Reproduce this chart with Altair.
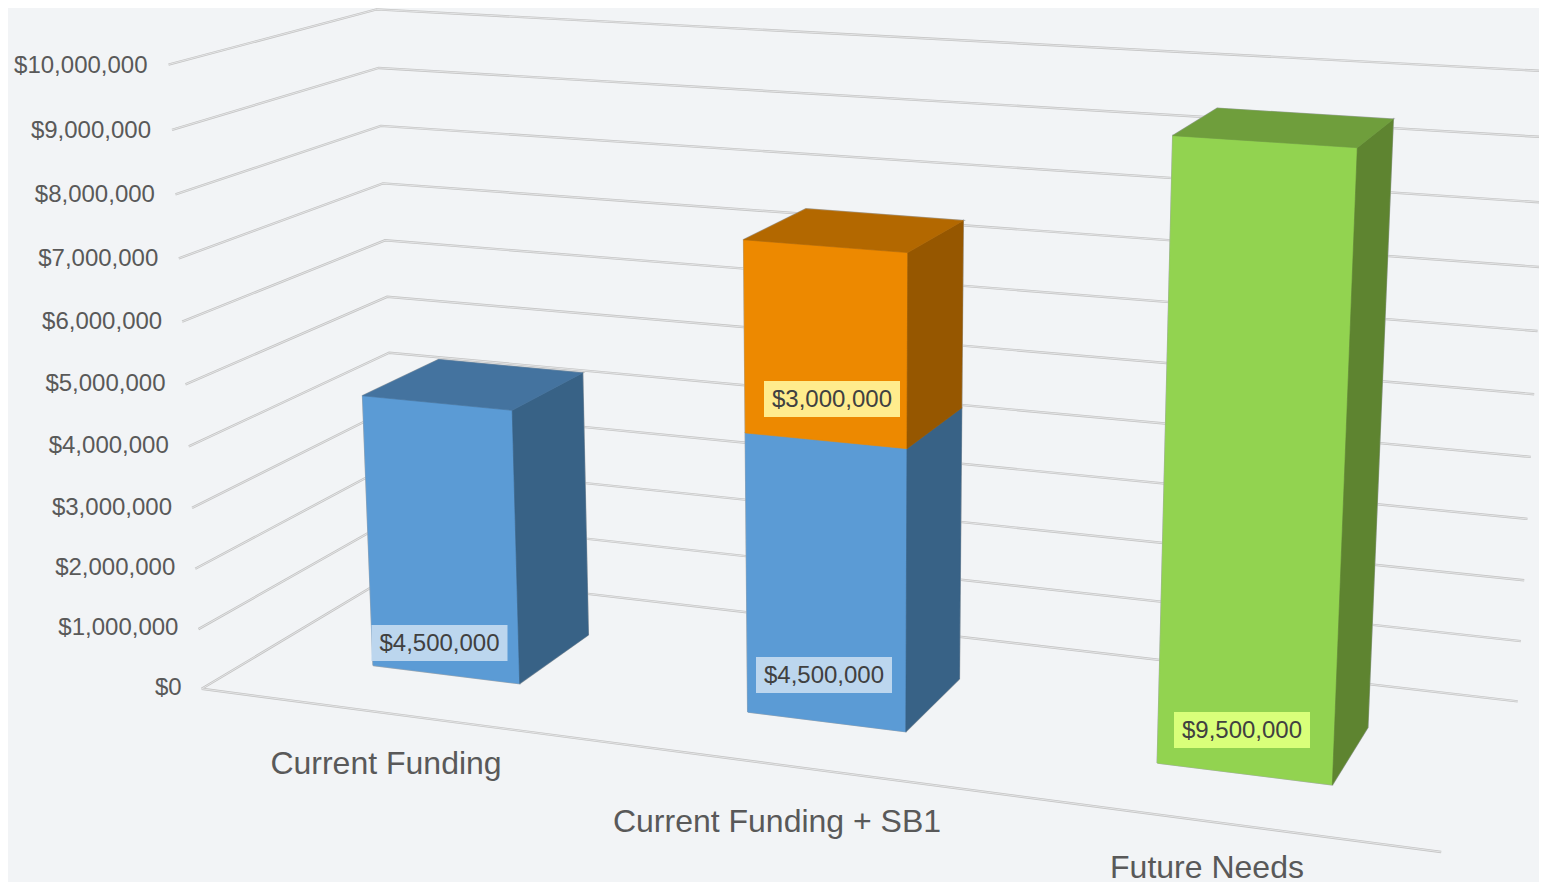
import altair as alt
import numpy as np
import pandas as pd

CATEGORIES = ["Current Funding", "Current Funding + SB1", "Future Needs"]
CURRENT = [4.5, 4.5, 0.0]      # $ millions
SB1 = [0.0, 3.0, 0.0]
FUTURE = [0.0, 0.0, 9.5]
TICKS = list(range(0, 11))
TICK_LABELS = ["$0"] + [f"${t},000,000" for t in TICKS[1:]]
BOX_LABELS = ["$4,500,000", "$4,500,000", "$3,000,000", "$9,500,000"]

# ---- layout / camera ----
U_SPANS = [(0.098, 0.230), (0.428, 0.560), (0.762, 0.897)]
V0, V1 = 0.30, 0.70
u0a, u1a = U_SPANS[0]; u0b, u1b = U_SPANS[1]; u0c, u1c = U_SPANS[2]
BAR_CAMERA = [
    ((u0a, V0, 0), (372, 662)), ((u1a, V0, 0), (519, 683)), ((u1a, V1, 0), (587, 633)),
    ((u0a, V0, 4.5), (362, 397)), ((u1a, V0, 4.5), (512, 410)), ((u1a, V1, 4.5), (582, 373)),
    ((u0a, V1, 4.5), (439, 361)),
    ((u0b, V0, 0), (748, 712)), ((u1b, V0, 0), (907, 732)), ((u1b, V1, 0), (962, 680)),
    ((u0b, V0, 7.5), (744, 241)), ((u1b, V0, 7.5), (909, 253)), ((u1b, V1, 7.5), (965, 221)),
    ((u0b, V1, 7.5), (806, 210)), ((u1b, V0, 4.5), (909, 450)), ((u0b, V0, 4.5), (746, 434)),
    ((u0c, V0, 0), (1157, 764)), ((u1c, V0, 0), (1331, 785)), ((u1c, V1, 0), (1367, 728)),
    ((u0c, V0, 9.5), (1172, 135)), ((u1c, V0, 9.5), (1357, 146)), ((u1c, V1, 9.5), (1393, 118)),
    ((u0c, V1, 9.5), (1215, 107)),
]
FRONT_LEFT = [(202, 688), (198, 630), (195, 570), (192, 508), (189, 446), (186, 384),
              (182, 322), (179, 258), (175, 195), (172, 130), (168, 65)]
BACK_LEFT = {4: (389, 352), 5: (387, 296), 6: (385, 240), 7: (383, 183),
             8: (381, 126), 9: (379, 68), 10: (377, 10)}
BACK_RIGHT = [(1517, 702), (1521, 641), (1524, 581), (1528, 520), (1531, 458), (1534, 394),
              (1537, 331), (1541, 267), (1545, 202), (1548, 137), (1551, 71)]
WALL_CAMERA = (
    [((0, 0, t), p) for t, p in enumerate(FRONT_LEFT)]
    + [((0, 1, t), p) for t, p in BACK_LEFT.items()]
    + [((1, 1, t), p) for t, p in enumerate(BACK_RIGHT)]
    + [((1, 0, 0), (1442, 850))]
)


def fit(points):
    rows, rhs = [], []
    for (u, v, w), (sx, sy) in points:
        rows.append([u, v, w, 1, 0, 0, 0, 0, -sx * u, -sx * v, -sx * w]); rhs.append(sx)
        rows.append([0, 0, 0, 0, u, v, w, 1, -sy * u, -sy * v, -sy * w]); rhs.append(sy)
    sol = np.linalg.lstsq(np.array(rows, float), np.array(rhs, float), rcond=None)[0]
    return np.append(sol, 1.0).reshape(3, 4)


P_BAR = fit(BAR_CAMERA)
P_WALL = fit(WALL_CAMERA)


def proj(P, u, v, w):
    q = P @ np.array([u, v, w, 1.0])
    return float(q[0] / q[2]), float(q[1] / q[2])


# ---- geometry from the data ----
BG = "#f2f4f6"
BLUE = ("#5b9bd5", "#44739f", "#386286")
ORANGE = ("#ed8900", "#b36800", "#965700")
GREEN = ("#92d350", "#6f9e3c", "#5e8430")

faces = []
fid = 0


def add_face(corners, fill):
    global fid
    for i, c in enumerate(corners + corners[:1]):
        x, y = proj(P_BAR, *c)
        faces.append({"x": x, "y": y, "i": i, "face": fid, "fill": fill})
    fid += 1


def add_block(span, lo, hi, cols, top):
    a, b = span
    add_face([(a, V0, lo), (b, V0, lo), (b, V0, hi), (a, V0, hi)], cols[0])
    add_face([(b, V0, lo), (b, V1, lo), (b, V1, hi), (b, V0, hi)], cols[2])
    if top:
        add_face([(a, V0, hi), (b, V0, hi), (b, V1, hi), (a, V1, hi)], cols[1])


for k in range(3):
    base = 0.0
    for val, cols in ((CURRENT[k], BLUE), (SB1[k], ORANGE), (FUTURE[k], GREEN)):
        if val > 0:
            is_top = (val + base) == CURRENT[k] + SB1[k] + FUTURE[k]
            add_block(U_SPANS[k], base, base + val, cols, is_top)
            base += val
faces = pd.DataFrame(faces)

grid = []
for t in TICKS:
    for i, c in enumerate([(0, 0, t), (0, 1, t), (1, 1, t)]):
        x, y = proj(P_WALL, *c)
        grid.append({"x": x, "y": y, "i": i, "line": f"t{t}"})
for i, c in enumerate([(0, 0, 0), (1, 0, 0)]):
    x, y = proj(P_WALL, *c)
    grid.append({"x": x, "y": y, "i": i, "line": "front"})
grid = pd.DataFrame(grid)

# small per-tick nudges of the labels relative to the start of their grid line
TICK_DX = [-20, -20, -20, -20, -20, -20, -20, -20.5, -20.5, -21, -21]
TICK_DY = [-1, -1, -1, 0, 0, 0, 0, 1, 1, 1, 1]
tick_df = pd.DataFrame([
    {"x": proj(P_WALL, 0, 0, t)[0] + dx, "y": proj(P_WALL, 0, 0, t)[1] + dy, "t": l}
    for t, l, dx, dy in zip(TICKS, TICK_LABELS, TICK_DX, TICK_DY)
])

CAT_X = [386, 777, 1207]
CAT_Y = [764, 822, 868]
cat_df = pd.DataFrame({"x": CAT_X, "y": CAT_Y, "t": CATEGORIES})

BOX_X = [439.5, 824, 832, 1242]
BOX_Y = [643, 675, 399, 730]
BOX_FILL = ["#bcd6ee", "#bcd6ee", "#ffec8d", "#d9ff7a"]
box_df = pd.DataFrame({
    "x": [v - 68 for v in BOX_X], "x2": [v + 68 for v in BOX_X],
    "y": [v - 18 for v in BOX_Y], "y2": [v + 18 for v in BOX_Y],
    "cx": BOX_X, "cy": [v + 1 for v in BOX_Y], "t": BOX_LABELS, "fill": BOX_FILL,
})

# ---- scales: one data unit is one pixel of the picture ----
W, H = 1531, 874
xs = alt.Scale(domain=[8, 8 + W], range=[0, W], nice=False, zero=False)
ys = alt.Scale(domain=[8, 8 + H], range=[0, H], nice=False, zero=False)
X = alt.X("x:Q", scale=xs, axis=None)
Y = alt.Y("y:Q", scale=ys, axis=None)

layers = [
    alt.Chart(grid).mark_line(stroke="#c4c4c4", strokeWidth=2.4, clip=True).encode(
        x=X, y=Y, order="i:Q", detail="line:N"),
    alt.Chart(grid).mark_line(stroke="#ebecee", strokeWidth=0.8, clip=True).encode(
        x=X, y=Y, order="i:Q", detail="line:N"),
    alt.Chart(faces).mark_line(stroke="#a9adb0", strokeWidth=1.6, clip=True).encode(
        x=X, y=Y, order="i:Q", detail="face:N"),
]
for col in faces["fill"].unique():
    layers.append(
        alt.Chart(faces[faces["fill"] == col]).mark_line(
            fill=col, stroke=col, strokeWidth=0.6, clip=True
        ).encode(x=X, y=Y, order="i:Q", detail="face:N")
    )
layers += [
    alt.Chart(box_df).mark_rect().encode(
        x=X, x2="x2:Q", y=Y, y2="y2:Q", fill=alt.Fill("fill:N", scale=None)),
    alt.Chart(box_df).mark_text(fontSize=24, font="Liberation Sans", color="#404040", baseline="middle").encode(
        x=alt.X("cx:Q", scale=xs, axis=None), y=alt.Y("cy:Q", scale=ys, axis=None), text="t:N"),
    alt.Chart(tick_df).mark_text(fontSize=24, font="Liberation Sans", color="#595959", align="right", baseline="middle").encode(
        x=X, y=Y, text="t:N"),
    alt.Chart(cat_df).mark_text(fontSize=32, font="Liberation Sans", color="#595959", baseline="middle").encode(
        x=X, y=Y, text="t:N"),
]

chart = alt.layer(*layers).properties(
    width=W, height=H, background=BG, padding=0,
    autosize=alt.AutoSizeParams(type="none"),
).configure_view(stroke=None)

chart.save("out.html", embed_options={"renderer": "svg", "actions": False})
